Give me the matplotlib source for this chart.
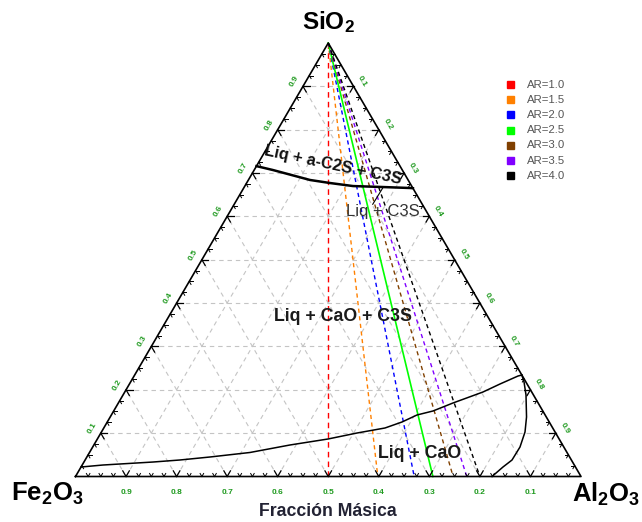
import numpy as np
import matplotlib
matplotlib.use("Agg")
import matplotlib.pyplot as plt

plt.rcParams['font.family'] = ['Liberation Sans', 'DejaVu Sans']
plt.rcParams['mathtext.default'] = 'regular'

H = np.sqrt(3) / 2

# ---------------- data ----------------
ar_labels = ["AR=1.0", "AR=1.5", "AR=2.0", "AR=2.5", "AR=3.0", "AR=3.5", "AR=4.0"]
ar_colors = ['#ff0000', '#ff8000', '#0000ff', '#00ff00', '#804000', '#8000ff', '#000000']
# Fe2O3 mass fraction where each AR line meets the base
ar_base_fe = [0.500, 0.402, 0.330, 0.293, 0.253, 0.226, 0.200]

# phase boundaries, (SiO2, Al2O3) mass fractions
upper_sio2 = [0.716, 0.707, 0.684, 0.677, 0.670, 0.668, 0.6655, 0.665]
upper_al2o3 = [0.000, 0.037, 0.122, 0.165, 0.214, 0.268, 0.329, 0.335]

lower_sio2 = [0.0219, 0.0265, 0.0334, 0.0381, 0.045, 0.0554, 0.0727, 0.0865, 0.1003,
              0.1119, 0.1257, 0.1419, 0.1511, 0.1696, 0.1949, 0.2134, 0.2318, 0.2341]
lower_al2o3 = [0.000, 0.0411, 0.1366, 0.1877, 0.2436, 0.3175, 0.388, 0.4562, 0.5067,
               0.5563, 0.583, 0.6046, 0.6316, 0.662, 0.7086, 0.7331, 0.7595, 0.7659]

curve_sio2 = [0.2341, 0.218, 0.188, 0.1373, 0.1027, 0.068, 0.038, 0.0219, 0.0]
curve_al2o3 = [0.7659, 0.7783, 0.7972, 0.8236, 0.8379, 0.8453, 0.8445, 0.8347, 0.824]

pointer_sio2 = [0.665, 0.628]
pointer_al2o3 = [0.275, 0.274]

tick_vals = [0.1, 0.2, 0.3, 0.4, 0.5, 0.6, 0.7, 0.8, 0.9]
tick_texts = ["0.1", "0.2", "0.3", "0.4", "0.5", "0.6", "0.7", "0.8", "0.9"]

region_texts = ["Liq + a-C2S + C3S", "Liq + C3S", "Liq + CaO + C3S", "Liq + CaO"]
region_sio2 = [0.718, 0.612, 0.368, 0.054]
region_al2o3 = [0.150, 0.302, 0.345, 0.654]


def tern(s, a):
    s = np.asarray(s, dtype=float)
    a = np.asarray(a, dtype=float)
    return a + s / 2, s * H


# ---------------- figure ----------------
W, Hpx = 642, 522
fig = plt.figure(figsize=(W / 100, Hpx / 100), dpi=100)
ax = fig.add_axes([0, 0, 1, 1])
x0px, basepx, widthpx, heightpx = 75.5, 476.5, 505.5, 433.5
ysc = heightpx / H
ax.set_xlim(-x0px / widthpx, (W - x0px) / widthpx)
ax.set_ylim(-(Hpx - basepx) / ysc, basepx / ysc)
ax.axis('off')

grid_kw = dict(color='#c4c4c4', lw=0.8, ls=(0, (4, 3.5)), zorder=1)
for v in tick_vals:
    xs, ys = tern([v, v], [0, 1 - v]); ax.plot(xs, ys, **grid_kw)
    xs, ys = tern([0, 1 - v], [v, v]); ax.plot(xs, ys, **grid_kw)
    xs, ys = tern([0, 1 - v], [1 - v, 0]); ax.plot(xs, ys, **grid_kw)

# triangle
xs, ys = tern([0, 0, 1, 0], [0, 1, 0, 0])
ax.plot(xs, ys, color='black', lw=1.2, zorder=5)

# ticks
steps = np.arange(1, 40) * 0.025
for t in steps:
    major = abs(t * 10 - round(t * 10)) < 1e-6
    L = 0.013 if major else 0.007
    lw = 0.9 if major else 0.7
    bx, by = tern(0, 1 - t)
    for d in [(-0.5, H), (0.5, H)]:
        ax.plot([bx, bx + L * d[0]], [by, by + L * d[1]], color='black', lw=lw, zorder=5)
    lx, ly = tern(t, 0)
    for d in [(1, 0), (0.5, -H)]:
        ax.plot([lx, lx + L * d[0]], [ly, ly + L * d[1]], color='black', lw=lw, zorder=5)
    rx, ry = tern(1 - t, t)
    for d in [(-1, 0), (-0.5, -H)]:
        ax.plot([rx, rx + L * d[0]], [ry, ry + L * d[1]], color='black', lw=lw, zorder=5)

lab_kw = dict(fontsize=6, color='#1f9a1f', fontweight='bold', ha='center', va='center', zorder=6)
off = 0.020
for v, s in zip(tick_vals, tick_texts):
    lx, ly = tern(v, 0)
    ax.text(lx - off * 0.866, ly + off * 0.5, s, rotation=60, **lab_kw)
    rx, ry = tern(1 - v, v)
    ax.text(rx + off * 0.866, ry + off * 0.5, s, rotation=-60, **lab_kw)
    bx, by = tern(0, 1 - v)
    ax.text(bx, by - 0.031, s, **lab_kw)

# AR lines
for fe, col in zip(ar_base_fe, ar_colors):
    xs, ys = tern([1, 0], [0, 1 - fe])
    if col == '#00ff00':
        ax.plot(xs, ys, color=col, lw=1.2, zorder=3)
    elif col == '#ff0000':
        ax.plot(xs, ys, color=col, lw=1.0, ls=(0, (4, 3)), zorder=3)
    else:
        ax.plot(xs, ys, color=col, lw=1.0, ls=(0, (3, 2.5)), zorder=3)

# phase boundaries
xs, ys = tern(upper_sio2, upper_al2o3); ax.plot(xs, ys, color='black', lw=1.8, zorder=4)
xs, ys = tern(lower_sio2, lower_al2o3); ax.plot(xs, ys, color='black', lw=1.1, zorder=4)
xs, ys = tern(curve_sio2, curve_al2o3); ax.plot(xs, ys, color='black', lw=1.1, zorder=4)
xs, ys = tern(pointer_sio2, pointer_al2o3); ax.plot(xs, ys, color='black', lw=0.8, zorder=4)

# region labels
rx, ry = tern(region_sio2, region_al2o3)
ax.text(rx[0], ry[0], region_texts[0], fontsize=11.8, fontweight='bold', rotation=-12,
        ha='center', va='center', color='#111111', zorder=7)
ax.text(rx[1], ry[1], region_texts[1], fontsize=12, ha='center', va='center',
        color='#333333', zorder=7)
ax.text(rx[2], ry[2], region_texts[2], fontsize=12.8, fontweight='bold', ha='center',
        va='center', color='#1a1a1a', zorder=7)
ax.text(rx[3], ry[3], region_texts[3], fontsize=12.8, fontweight='bold', ha='center',
        va='center', color='#1a1a1a', zorder=7)

# vertex labels
fig.text(328 / W, 1 - 22 / Hpx, "SiO$_2$", fontsize=17.5, fontweight='bold', ha='center', va='center')
fig.text(47 / W, 1 - 494 / Hpx, "Fe$_2$O$_3$", fontsize=18.5, fontweight='bold', ha='center', va='center')
fig.text(606 / W, 1 - 494 / Hpx, "Al$_2$O$_3$", fontsize=18.5, fontweight='bold', ha='center', va='center')
fig.text(328 / W, 1 - 511 / Hpx, "Fracción Másica", fontsize=12.7, fontweight='bold',
         ha='center', va='center', color='#222233')

# legend
for i, (lab, col) in enumerate(zip(ar_labels, ar_colors)):
    yy = 1 - (84.5 + i * 15.2) / Hpx
    fig.patches.append(plt.Rectangle((507 / W, yy - 3.5 / Hpx), 7 / W, 7 / Hpx,
                                     transform=fig.transFigure, color=col))
    fig.text(527 / W, yy, lab, fontsize=8.2, color='#555555', va='center', ha='left')

fig.savefig("out.png", dpi=100)
